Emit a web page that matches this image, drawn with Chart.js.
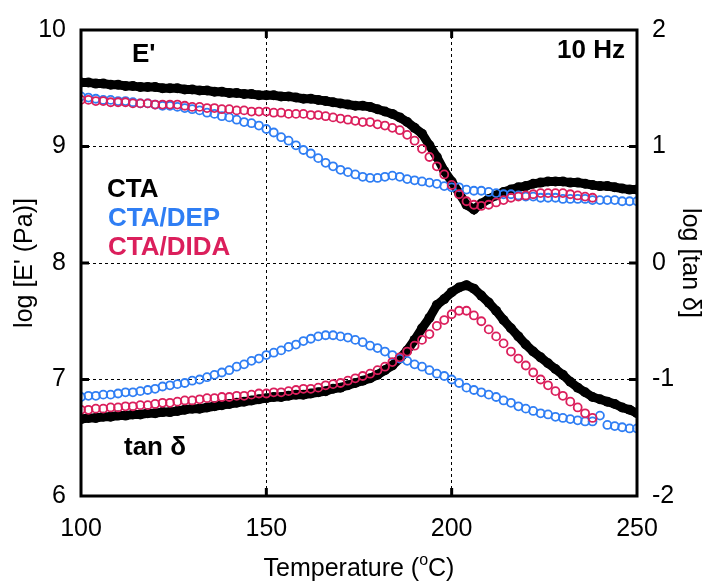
<!DOCTYPE html>
<html>
<head>
<meta charset="utf-8">
<script src="https://cdn.jsdelivr.net/npm/chart.js@4.4.1/dist/chart.umd.min.js"></script>
<style>
  html, body { margin: 0; padding: 0; background: #fff; }
</style>
</head>
<body>
<canvas id="chart" width="706" height="583"></canvas>
<script>
// temperatures (oC), one reading every 2 degrees
const temps = [
  100, 102, 104, 106, 108, 110, 112, 114, 116, 118,
  120, 122, 124, 126, 128, 130, 132, 134, 136, 138,
  140, 142, 144, 146, 148, 150, 152, 154, 156, 158,
  160, 162, 164, 166, 168, 170, 172, 174, 176, 178,
  180, 182, 184, 186, 188, 190, 192, 194, 196, 198,
  200, 202, 204, 206, 208, 210, 212, 214, 216, 218,
  220, 222, 224, 226, 228, 230, 232, 234, 236, 238,
  240, 242, 244, 246, 248, 250
];

const samples = ['CTA', 'CTA/DEP', 'CTA/DIDA'];

// log E' (Pa), left axis
const ctaE = [
  9.55, 9.55, 9.54, 9.54, 9.53, 9.53, 9.52, 9.52, 9.51, 9.51,
  9.51, 9.50, 9.50, 9.50, 9.49, 9.49, 9.48, 9.48, 9.47, 9.47,
  9.46, 9.46, 9.45, 9.45, 9.44, 9.44, 9.44, 9.43, 9.43, 9.42,
  9.41, 9.41, 9.40, 9.39, 9.38, 9.37, 9.36, 9.35, 9.35, 9.34,
  9.32, 9.30, 9.28, 9.25, 9.21, 9.16, 9.11, 9.01, 8.91, 8.79,
  8.70, 8.60, 8.50, 8.46, 8.51, 8.55, 8.58, 8.61, 8.63, 8.65,
  8.66, 8.68, 8.69, 8.70, 8.70, 8.70, 8.69, 8.69, 8.68, 8.67,
  8.66, 8.66, 8.65, 8.64, 8.63, 8.63
];
const depE = [
  9.43, 9.42, 9.41, 9.40, 9.40, 9.39, 9.39, 9.38, 9.37, 9.37,
  9.36, 9.35, 9.35, 9.34, 9.33, 9.32, 9.31, 9.29, 9.28, 9.26,
  9.25, 9.23, 9.21, 9.20, 9.18, 9.15, 9.12, 9.08, 9.05, 9.01,
  8.97, 8.94, 8.90, 8.86, 8.83, 8.80, 8.78, 8.76, 8.74, 8.73,
  8.73, 8.74, 8.75, 8.74, 8.72, 8.71, 8.70, 8.69, 8.68, 8.66,
  8.65, 8.65, 8.63, 8.62, 8.62, 8.61, 8.60, 8.59, 8.59, 8.58,
  8.57, 8.57, 8.56, 8.56, 8.56, 8.55, 8.55, 8.55, 8.55, 8.54,
  8.54, 8.54, 8.54, 8.53, 8.53, 8.53
];
const didaE = [
  9.40, 9.40, 9.39, 9.39, 9.38, 9.38, 9.38, 9.37, 9.37, 9.37,
  9.36, 9.36, 9.36, 9.36, 9.35, 9.34, 9.34, 9.33, 9.33, 9.32,
  9.32, 9.31, 9.31, 9.30, 9.30, 9.30, 9.29, 9.29, 9.28, 9.28,
  9.28, 9.27, 9.27, 9.26, 9.25, 9.24, 9.23, 9.22, 9.21, 9.21,
  9.19, 9.18, 9.16, 9.14, 9.10, 9.05, 8.98, 8.91, 8.83, 8.76,
  8.67, 8.59, 8.53, 8.50, 8.49, 8.50, 8.52, 8.54, 8.56, 8.57,
  8.58, 8.59, 8.60, 8.60, 8.60, 8.60, 8.59, 8.58, 8.57, 8.56
];

// log tan delta, right axis
const ctaTan = [
  -1.34, -1.33, -1.33, -1.32, -1.32, -1.31, -1.31, -1.30, -1.30, -1.29,
  -1.29, -1.28, -1.28, -1.27, -1.26, -1.25, -1.25, -1.24, -1.23, -1.22,
  -1.21, -1.20, -1.19, -1.18, -1.17, -1.16, -1.15, -1.15, -1.14, -1.13,
  -1.13, -1.12, -1.11, -1.10, -1.08, -1.07, -1.05, -1.03, -1.01, -0.99,
  -0.96, -0.92, -0.88, -0.82, -0.75, -0.66, -0.56, -0.47, -0.36, -0.31,
  -0.25, -0.21, -0.19, -0.22, -0.28, -0.34, -0.41, -0.49, -0.56, -0.63,
  -0.70, -0.76, -0.81, -0.86, -0.91, -0.96, -1.02, -1.07, -1.11, -1.15,
  -1.17, -1.19, -1.21, -1.24, -1.26, -1.29
];
const depTan = [
  -1.15, -1.14, -1.14, -1.13, -1.13, -1.12, -1.11, -1.11, -1.10, -1.09,
  -1.08, -1.06, -1.05, -1.04, -1.03, -1.01, -1.00, -0.98, -0.96, -0.94,
  -0.92, -0.89, -0.87, -0.84, -0.82, -0.79, -0.77, -0.75, -0.72, -0.70,
  -0.67, -0.65, -0.63, -0.62, -0.62, -0.63, -0.64, -0.66, -0.68, -0.71,
  -0.73, -0.76, -0.79, -0.82, -0.84, -0.87, -0.89, -0.92, -0.95, -0.97,
  -1.00, -1.03, -1.07, -1.09, -1.11, -1.13, -1.15, -1.18, -1.20, -1.23,
  -1.25, -1.27, -1.29, -1.30, -1.32, -1.33, -1.34, -1.35, -1.36, -1.36,
  -1.31, -1.39, -1.40, -1.41, -1.42, -1.42
];
const didaTan = [
  -1.26, -1.26, -1.25, -1.25, -1.24, -1.24, -1.23, -1.23, -1.22, -1.22,
  -1.21, -1.20, -1.20, -1.19, -1.18, -1.18, -1.17, -1.16, -1.16, -1.15,
  -1.15, -1.14, -1.14, -1.13, -1.12, -1.12, -1.11, -1.11, -1.10, -1.09,
  -1.08, -1.08, -1.07, -1.05, -1.04, -1.03, -1.01, -0.99, -0.97, -0.95,
  -0.92, -0.89, -0.85, -0.81, -0.76, -0.71, -0.66, -0.61, -0.54, -0.49,
  -0.44, -0.41, -0.41, -0.45, -0.50, -0.57, -0.63, -0.69, -0.76, -0.82,
  -0.88, -0.94, -1.00, -1.05, -1.10, -1.14, -1.19, -1.24, -1.29, -1.33
];

const black = '#000000';
const blue = '#2f7ef4';
const pink = '#db1f5c';
const fontFam = "'Liberation Sans', Arial, sans-serif";

Chart.defaults.font.family = fontFam;
Chart.defaults.color = '#000';

function pts(ys) {
  return ys.map((y, i) => ({ x: temps[i], y: y }));
}

function filled(data, axis) {
  return {
    data: pts(data), yAxisID: axis, order: 2,
    showLine: true, borderColor: black, borderWidth: 9,
    pointRadius: 5, pointBackgroundColor: black, pointBorderWidth: 0
  };
}
function rings(data, axis, color, order) {
  return {
    data: pts(data), yAxisID: axis, order: order,
    showLine: false, pointStyle: 'circle', pointRadius: 4,
    pointBorderWidth: 1.8, pointBorderColor: color,
    pointBackgroundColor: 'rgba(0,0,0,0)'
  };
}

// frame + inward tick marks
const framePlugin = {
  id: 'frame',
  afterDraw(chart) {
    const ctx = chart.ctx;
    const a = chart.chartArea;
    const sx = chart.scales.x, sy = chart.scales.y;
    ctx.save();
    ctx.strokeStyle = '#000';
    ctx.lineWidth = 3;
    ctx.beginPath();
    sx.ticks.forEach(t => {
      if (t.value <= sx.min || t.value >= sx.max) return;
      const px = sx.getPixelForValue(t.value);
      ctx.moveTo(px, a.bottom); ctx.lineTo(px, a.bottom - 8);
      ctx.moveTo(px, a.top); ctx.lineTo(px, a.top + 8);
    });
    sy.ticks.forEach(t => {
      if (t.value <= sy.min || t.value >= sy.max) return;
      const py = sy.getPixelForValue(t.value);
      ctx.moveTo(a.left, py); ctx.lineTo(a.left + 8, py);
      ctx.moveTo(a.right, py); ctx.lineTo(a.right - 8, py);
    });
    ctx.stroke();
    ctx.strokeRect(a.left, a.top, a.right - a.left, a.bottom - a.top);
    ctx.restore();
  }
};

// in-plot labels and the x axis title with a superscript
const textPlugin = {
  id: 'texts',
  afterDraw(chart) {
    const ctx = chart.ctx;
    const a = chart.chartArea;
    ctx.save();
    ctx.textBaseline = 'alphabetic';
    ctx.font = 'bold 26px ' + fontFam;
    ctx.fillStyle = black;
    ctx.textAlign = 'left';
    ctx.fillText("E'", 132, 62);
    ctx.fillText(samples[0], 107, 197);
    ctx.fillText('tan \u03b4', 124, 455);
    ctx.fillStyle = blue;
    ctx.fillText(samples[1], 108, 226);
    ctx.fillStyle = pink;
    ctx.fillText(samples[2], 108, 255);
    ctx.fillStyle = black;
    ctx.textAlign = 'right';
    ctx.fillText('10 Hz', 625, 58);

    // x axis title
    const big = '25px ' + fontFam, small = '16px ' + fontFam;
    const p1 = 'Temperature (', p2 = 'o', p3 = 'C)';
    ctx.font = big; const w1 = ctx.measureText(p1).width, w3 = ctx.measureText(p3).width;
    ctx.font = small; const w2 = ctx.measureText(p2).width;
    let x = (a.left + a.right) / 2 - (w1 + w2 + w3) / 2;
    const base = 576;
    ctx.textAlign = 'left';
    ctx.font = big; ctx.fillText(p1, x, base); x += w1;
    ctx.font = small; ctx.fillText(p2, x, base - 11); x += w2;
    ctx.font = big; ctx.fillText(p3, x, base);
    ctx.restore();
  }
};

new Chart(document.getElementById('chart'), {
  type: 'scatter',
  data: {
    datasets: [
      filled(ctaE, 'y'),
      rings(depE, 'y', blue, 1),
      rings(didaE, 'y', pink, 0),
      filled(ctaTan, 'y1'),
      rings(depTan, 'y1', blue, 1),
      rings(didaTan, 'y1', pink, 0)
    ]
  },
  options: {
    responsive: false,
    animation: false,
    devicePixelRatio: 1,
    layout: { padding: { top: 28, left: 0, right: 0, bottom: 0 } },
    plugins: { legend: { display: false }, tooltip: { enabled: false } },
    scales: {
      x: {
        type: 'linear', min: 100, max: 250,
        ticks: { stepSize: 50, font: { size: 25 }, padding: 18, color: '#000' },
        grid: { color: '#000', lineWidth: 1, drawTicks: false },
        border: { display: false, dash: [3, 3] },
        afterFit: s => { s.height = 87; }
      },
      y: {
        position: 'left', min: 6, max: 10,
        ticks: { stepSize: 1, font: { size: 25 }, padding: 15, color: '#000' },
        grid: { color: '#000', lineWidth: 1, drawTicks: false },
        border: { display: false, dash: [3, 3] },
        title: { display: true, text: "log [E' (Pa)]", font: { size: 25 }, padding: { top: 10 } },
        afterFit: s => { s.width = 81; }
      },
      y1: {
        position: 'right', min: -2, max: 2,
        ticks: { stepSize: 1, font: { size: 25 }, padding: 15, color: '#000' },
        grid: { drawOnChartArea: false, drawTicks: false },
        border: { display: false },
        title: { display: true, text: 'log [tan \u03b4]', font: { size: 25 }, padding: { top: 1 } },
        afterFit: s => { s.width = 69; }
      }
    }
  },
  plugins: [framePlugin, textPlugin]
});
</script>
</body>
</html>
